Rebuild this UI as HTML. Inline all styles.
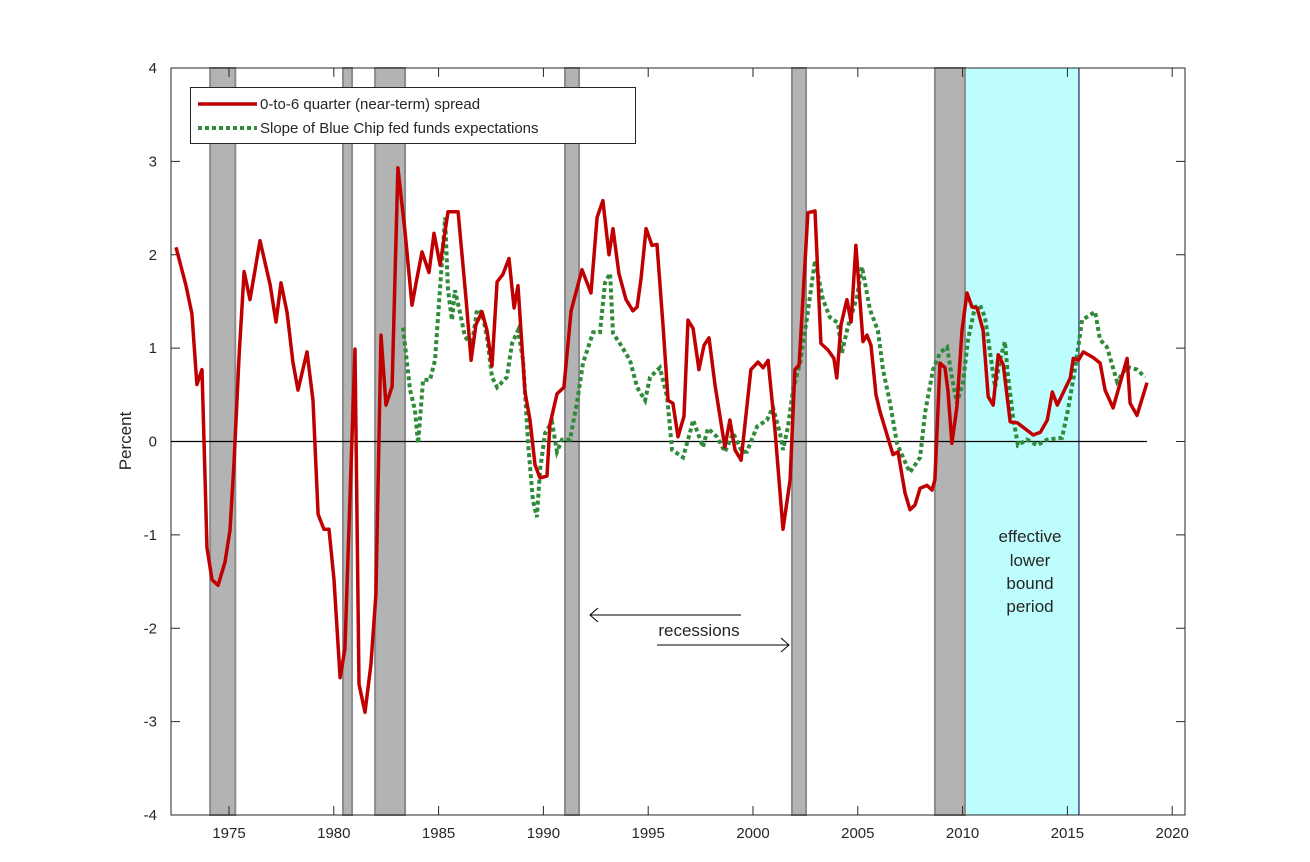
<!DOCTYPE html>
<html><head><meta charset="utf-8"><style>
body{margin:0;background:#fff;}
svg text{font-family:"Liberation Sans",sans-serif;}
</style></head><body>
<svg id="chart" width="1310" height="857" viewBox="0 0 1310 857" xmlns="http://www.w3.org/2000/svg">
<g id="bands"></g>
<g id="axes"></g>
<g id="series"></g>
<g id="annot"></g>
</svg>
<script>
const recStart=[1974.1,1980.44,1981.97,1991.03,2001.86,2008.68];
const recEnd=[1975.3,1980.87,1983.4,1991.7,2002.53,2010.11];
const elbStart=2010.11, elbEnd=2015.55;
const yTicks=[-4,-3,-2,-1,0,1,2,3,4];
const xTicks=[1975,1980,1985,1990,1995,2000,2005,2010,2015,2020];
const redYears=[1972.47,1972.95,1973.23,1973.47,1973.71,1973.95,1974.19,1974.48,1974.81,1975.05,1975.24,1975.48,1975.72,1976.0,1976.48,1976.96,1977.24,1977.48,1977.77,1978.05,1978.29,1978.72,1979.01,1979.25,1979.53,1979.77,1980.01,1980.3,1980.53,1981.01,1981.2,1981.49,1981.77,1982.01,1982.25,1982.49,1982.78,1983.06,1983.4,1983.73,1983.97,1984.21,1984.54,1984.78,1985.07,1985.45,1985.93,1986.31,1986.55,1986.78,1987.07,1987.31,1987.55,1987.79,1988.07,1988.36,1988.6,1988.79,1989.12,1989.36,1989.6,1989.84,1990.17,1990.31,1990.65,1990.98,1991.32,1991.84,1992.27,1992.56,1992.84,1993.13,1993.32,1993.6,1993.94,1994.27,1994.47,1994.66,1994.9,1995.18,1995.42,1995.71,1995.95,1996.18,1996.42,1996.71,1996.9,1997.14,1997.42,1997.66,1997.9,1998.19,1998.43,1998.66,1998.9,1999.14,1999.43,1999.9,2000.24,2000.48,2000.72,2001.05,2001.43,2001.77,2002.0,2002.2,2002.62,2002.96,2003.24,2003.58,2003.86,2004.0,2004.2,2004.48,2004.68,2004.91,2005.25,2005.44,2005.63,2005.87,2006.06,2006.68,2006.92,2007.25,2007.49,2007.73,2007.97,2008.3,2008.54,2008.68,2008.92,2009.16,2009.3,2009.49,2009.73,2009.97,2010.21,2010.45,2010.69,2010.98,2011.22,2011.46,2011.7,2011.94,2012.27,2012.61,2013.08,2013.37,2013.71,2014.04,2014.28,2014.52,2014.9,2015.14,2015.28,2015.52,2015.76,2016.23,2016.56,2016.8,2017.18,2017.85,2017.99,2018.32,2018.8];
const redVals=[2.08,1.67,1.37,0.61,0.77,-1.14,-1.48,-1.54,-1.29,-0.95,-0.23,0.92,1.82,1.52,2.15,1.68,1.28,1.70,1.38,0.85,0.55,0.96,0.44,-0.78,-0.94,-0.94,-1.48,-2.53,-2.22,0.99,-2.6,-2.9,-2.39,-1.64,1.14,0.39,0.59,2.93,2.24,1.46,1.75,2.03,1.81,2.23,1.89,2.46,2.46,1.52,0.87,1.25,1.39,1.19,0.81,1.71,1.79,1.96,1.43,1.67,0.53,0.23,-0.25,-0.39,-0.37,0.18,0.51,0.58,1.40,1.84,1.59,2.40,2.58,2.0,2.28,1.8,1.52,1.40,1.44,1.75,2.28,2.10,2.11,1.23,0.44,0.41,0.05,0.27,1.30,1.21,0.77,1.03,1.11,0.60,0.26,-0.06,0.23,-0.09,-0.20,0.77,0.85,0.79,0.87,0.12,-0.94,-0.41,0.77,0.82,2.45,2.47,1.05,0.98,0.89,0.68,1.25,1.52,1.28,2.10,1.07,1.14,1.03,0.50,0.32,-0.14,-0.11,-0.55,-0.73,-0.68,-0.50,-0.47,-0.52,-0.41,0.84,0.79,0.55,-0.02,0.37,1.19,1.59,1.44,1.43,1.19,0.48,0.39,0.93,0.82,0.21,0.20,0.12,0.07,0.10,0.23,0.53,0.39,0.57,0.68,0.89,0.87,0.96,0.90,0.84,0.55,0.36,0.89,0.41,0.28,0.63];
const greenYears=[1983.3,1983.49,1983.64,1983.87,1984.02,1984.26,1984.59,1984.83,1984.97,1985.16,1985.31,1985.45,1985.64,1985.78,1986.02,1986.26,1986.59,1986.83,1987.07,1987.31,1987.55,1987.79,1988.26,1988.5,1988.79,1989.03,1989.27,1989.5,1989.69,1989.84,1990.08,1990.41,1990.65,1990.89,1991.27,1991.6,1991.89,1992.37,1992.7,1992.94,1993.18,1993.32,1993.65,1994.13,1994.47,1994.85,1995.09,1995.56,1995.9,1996.14,1996.66,1996.99,1997.14,1997.61,1997.85,1998.28,1998.66,1999.05,1999.48,1999.71,2000.19,2000.67,2000.95,2001.29,2001.43,2001.67,2001.91,2002.24,2002.58,2002.96,2003.34,2003.67,2004.05,2004.24,2004.53,2004.96,2005.2,2005.58,2005.96,2006.2,2006.54,2006.87,2007.35,2007.49,2007.97,2008.21,2008.59,2008.92,2009.26,2009.49,2009.73,2010.02,2010.26,2010.59,2010.83,2011.07,2011.31,2011.55,2011.78,2012.02,2012.17,2012.41,2012.64,2013.07,2013.55,2014.03,2014.74,2015.03,2015.36,2015.7,2016.32,2016.56,2016.89,2017.37,2017.84,2018.32,2018.7];
const greenVals=[1.22,0.84,0.55,0.34,-0.02,0.66,0.66,0.87,1.33,1.94,2.40,1.62,1.30,1.62,1.38,1.12,1.03,1.41,1.38,1.12,0.69,0.58,0.69,1.05,1.19,0.87,-0.02,-0.63,-0.81,-0.31,0.09,0.21,-0.11,0.02,0.02,0.41,0.84,1.17,1.17,1.70,1.80,1.16,1.05,0.87,0.58,0.44,0.69,0.79,0.48,-0.09,-0.17,0.09,0.23,-0.06,0.14,0.05,-0.11,0.09,-0.11,-0.11,0.16,0.23,0.37,0.09,-0.09,0.16,0.55,0.84,1.33,1.94,1.52,1.33,1.27,0.95,1.23,1.55,1.87,1.41,1.19,0.77,0.41,-0.02,-0.27,-0.33,-0.17,0.31,0.77,0.95,1.01,0.69,0.41,0.63,1.09,1.44,1.46,1.33,0.95,0.58,0.87,1.07,0.69,0.26,-0.04,0.02,-0.04,0.02,0.04,0.34,0.77,1.30,1.39,1.09,1.01,0.64,0.80,0.77,0.69];

const L=171,R=1185,T=68,B=815;
const X0=1972.233, PX=20.96;
function sx(y){return 229+(y-1975)*PX;}
function sy(v){return T+(4-v)*(B-T)/8;}
const NS='http://www.w3.org/2000/svg';
function mk(tag,attrs,parent){const e=document.createElementNS(NS,tag);for(const k in attrs)e.setAttribute(k,attrs[k]);parent.appendChild(e);return e;}
const bands=document.getElementById('bands'),axes=document.getElementById('axes'),series=document.getElementById('series'),annot=document.getElementById('annot');

let elb=mk('rect',{x:sx(elbStart),y:T,width:sx(elbEnd)-sx(elbStart),height:B-T,fill:'#bdfdfd'},bands);


let elbLine=mk('line',{x1:sx(elbEnd),x2:sx(elbEnd),y1:T,y2:B,stroke:'#4a4a8a','stroke-width':1.5},bands);


for(let i=0;i<recStart.length;i++){
  const r=mk('rect',{x:sx(recStart[i]),y:T,width:sx(recEnd[i])-sx(recStart[i]),height:B-T,fill:'#b3b3b3',stroke:'#8c8c8c','stroke-width':2},bands);
  
  
}
const box=mk('rect',{x:L,y:T,width:R-L,height:B-T,fill:'none',stroke:'#262626','stroke-width':1},axes);


yTicks.forEach(v=>{
  const y=sy(v);
  mk('line',{x1:L,x2:L+9,y1:y,y2:y,stroke:'#262626'},axes);
  mk('line',{x1:R,x2:R-9,y1:y,y2:y,stroke:'#262626'},axes);
  const t=mk('text',{x:L-14,y:y+5,'text-anchor':'end','font-size':15,fill:'#262626'},axes);
  t.textContent=v;
  
  
});
xTicks.forEach(v=>{
  const x=sx(v);
  mk('line',{x1:x,x2:x,y1:B,y2:B-9,stroke:'#262626'},axes);
  mk('line',{x1:x,x2:x,y1:T,y2:T+9,stroke:'#262626'},axes);
  const t=mk('text',{x:x,y:B+23,'text-anchor':'middle','font-size':15,fill:'#262626'},axes);
  t.textContent=v;
  
  
});
const yl=mk('text',{x:0,y:0,transform:'translate(131,441) rotate(-90)','text-anchor':'middle','font-size':17,fill:'#262626'},axes);
yl.textContent='Percent';


const zl=mk('line',{x1:L,x2:sx(2018.8),y1:sy(0),y2:sy(0),stroke:'#000','stroke-width':1.2},series);



function pts(xs,vs){return xs.map((x,i)=>sx(x).toFixed(1)+','+sy(vs[i]).toFixed(1)).join(' ');}
const g=mk('polyline',{points:pts(greenYears,greenVals),fill:'none',stroke:'#2e8b3a','stroke-width':4,'stroke-dasharray':'4 3'},series);


const r=mk('polyline',{points:pts(redYears,redVals),fill:'none',stroke:'#c00000','stroke-width':3.5,'stroke-linejoin':'round'},series);


</script>
<svg style="position:absolute;left:0;top:0" width="1310" height="857">
<g>
<rect x="190.5" y="87.5" width="445" height="56" fill="#fff" stroke="#262626" stroke-width="1"/>
<line x1="198" x2="257" y1="104" y2="104" stroke="#c00000" stroke-width="3.5"/>
<text x="260" y="109" font-size="15" fill="#262626" font-family="Liberation Sans, sans-serif">0-to-6 quarter (near-term) spread</text>
<line x1="198" x2="257" y1="128" y2="128" stroke="#2e8b3a" stroke-width="4" stroke-dasharray="4 3"/>
<text x="260" y="133" font-size="15" fill="#262626" font-family="Liberation Sans, sans-serif">Slope of Blue Chip fed funds expectations</text>
</g>
<g font-family="Liberation Sans, sans-serif">
<line x1="741" y1="615" x2="590" y2="615" stroke="#000" stroke-width="1"/>
<polyline points="598,608 590,615 598,622" fill="none" stroke="#000"/>
<text x="699" y="636" font-size="17" text-anchor="middle" fill="#262626">recessions</text>
<line x1="657" y1="645" x2="789" y2="645" stroke="#000" stroke-width="1"/>
<polyline points="781,638 789,645 781,652" fill="none" stroke="#000"/>
</g>
<g font-family="Liberation Sans, sans-serif" font-size="17" fill="#262626" text-anchor="middle">
<text x="1030" y="542">effective</text>
<text x="1030" y="566">lower</text>
<text x="1030" y="589">bound</text>
<text x="1030" y="612">period</text>
</g>
</svg>
</body></html>
